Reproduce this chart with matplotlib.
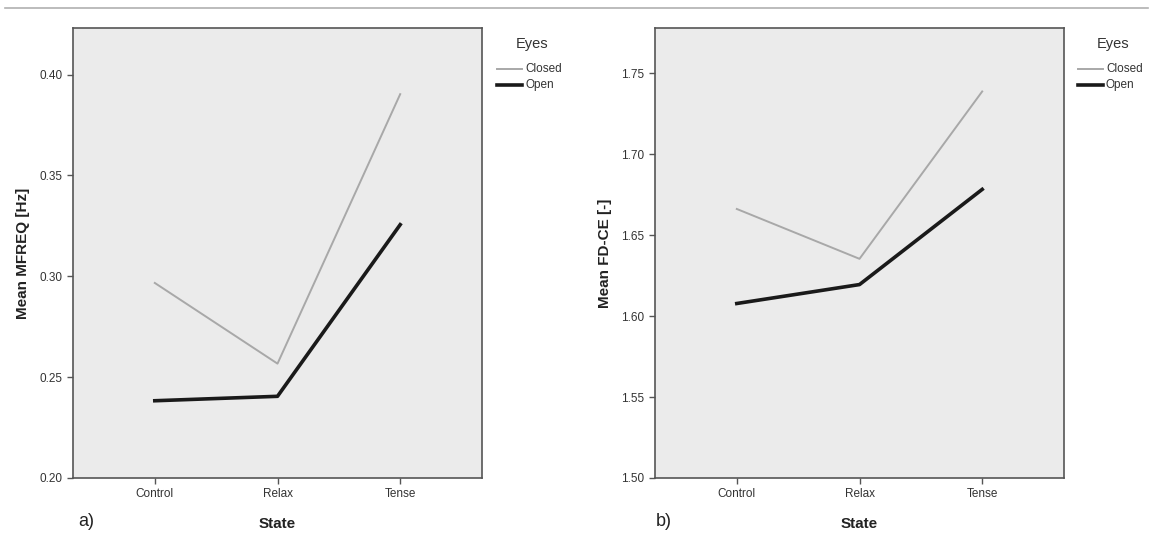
import matplotlib
matplotlib.use("Agg")
import matplotlib.pyplot as plt
from matplotlib.lines import Line2D

# Datos
estados = ["Control", "Relax", "Tense"]
grupos = ["Closed", "Open"]

mfreq_closed = [0.2967, 0.2567, 0.3903]
mfreq_open = [0.2383, 0.2405, 0.3256]

fdce_closed = [1.6662, 1.6354, 1.7388]
fdce_open = [1.6078, 1.6195, 1.6783]

plt.rcParams['font.family'] = ['Liberation Sans Narrow', 'Liberation Sans', 'DejaVu Sans']

fig = plt.figure(figsize=(11.51, 5.36), dpi=100)

# Linea superior
fig.add_artist(Line2D([5 / 1151, 1148 / 1151], [1 - 8 / 536, 1 - 8 / 536], color='#b0b0b0', lw=1.2))

estilos = {"Closed": dict(color='#a8a8a8', lw=1.4), "Open": dict(color='#1a1a1a', lw=2.6)}


def panel(pos, closed, opened, ylim, yticks, ylabel, letra, leg_x, letra_x):
    ax = fig.add_axes(pos)
    ax.set_facecolor('#ebebeb')
    x = range(len(estados))
    ax.plot(x, closed, **estilos["Closed"])
    ax.plot(x, opened, **estilos["Open"])
    ax.set_xlim(-2 / 3, 8 / 3)
    ax.set_ylim(*ylim)
    ax.set_xticks(list(x))
    ax.set_xticklabels(estados)
    ax.set_yticks(yticks)
    ax.set_yticklabels(["%.2f" % v for v in yticks])
    for s in ax.spines.values():
        s.set_color('#555555')
        s.set_linewidth(1.2)
    ax.tick_params(axis='both', colors='#555555', labelcolor='#333333', labelsize=8.5,
                   length=4, width=1, direction='out')
    ax.set_xlabel("State", fontsize=11, fontweight='bold', color='#222222', labelpad=12)
    ax.set_ylabel(ylabel, fontsize=11, fontweight='bold', color='#222222', labelpad=7)

    # Leyenda manual
    fig.text(leg_x + 35 / 1151, 1 - 44 / 536, "Eyes", fontsize=10.5, color='#333333',
             ha='center', va='center')
    for i, g in enumerate(grupos):
        yy = 1 - (69 + 16 * i) / 536
        fig.add_artist(Line2D([leg_x, leg_x + 25 / 1151], [yy, yy], **estilos[g]))
        fig.text(leg_x + 28 / 1151, yy, g, fontsize=8.5, color='#333333', va='center')

    fig.text(letra_x, 1 - 521 / 536, letra, fontsize=13, color='#222222', va='center')
    return ax


w = 409 / 1151
h = (478 - 28) / 536
b = 1 - 478 / 536

panel([73 / 1151, b, w, h], mfreq_closed, mfreq_open, (0.20, 0.4231),
      [0.20, 0.25, 0.30, 0.35, 0.40], "Mean MFREQ [Hz]", "a)", 497 / 1151, 78 / 1151)
panel([655 / 1151, b, w, h], fdce_closed, fdce_open, (1.50, 1.778),
      [1.50, 1.55, 1.60, 1.65, 1.70, 1.75], "Mean FD-CE [-]", "b)", 1078 / 1151, 656 / 1151)

fig.savefig("out.png", dpi=100)
